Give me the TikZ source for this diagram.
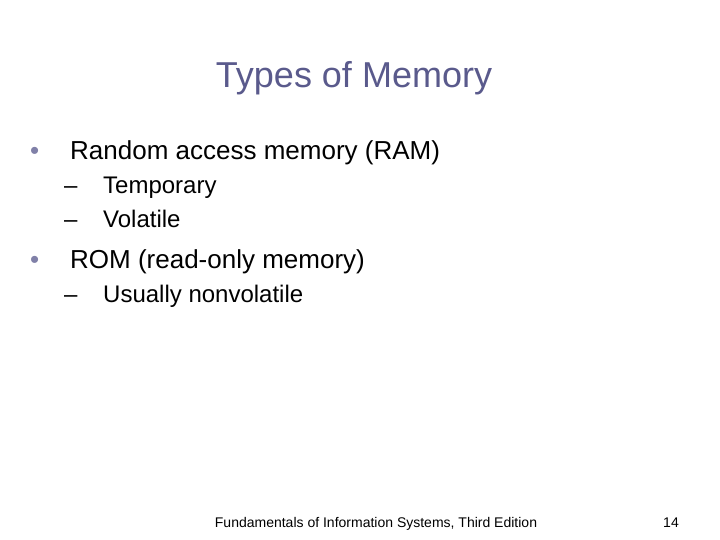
\documentclass[tikz,border=0pt]{standalone}
\usepackage{fontspec}
\setmainfont{Liberation Sans}
\definecolor{titlecol}{HTML}{5A5A8C}
\definecolor{dotcol}{HTML}{8080A8}
\begin{document}
\begin{tikzpicture}[x=1pt,y=-1pt,
  title/.style={font=\fontsize{36}{40}\selectfont,text=titlecol,anchor=base},
  lvlone/.style={font=\fontsize{26}{30}\selectfont,anchor=base west,inner sep=0pt},
  lvltwo/.style={font=\fontsize{24}{28}\selectfont,anchor=base west,inner sep=0pt},
  foot/.style={font=\fontsize{14}{16}\selectfont,anchor=base,inner sep=0pt}]
  \useasboundingbox[fill=white] (0,0) rectangle (720,540);
  \node[title] (head) at (354,88) {Types of Memory};
  % first bullet
  \node[lvlone,text=dotcol] (dotA) at (30,160) {\textbullet};
  \node[lvlone] (ram) at (70,160) {Random access memory (RAM)};
  \node[lvltwo] (dashA) at (64,194) {–};
  \node[lvltwo] (temp) at (103,194) {Temporary};
  \node[lvltwo] (dashB) at (64,227) {–};
  \node[lvltwo] (vol) at (103,227) {Volatile};
  % second bullet
  \node[lvlone,text=dotcol] (dotB) at (30,268) {\textbullet};
  \node[lvlone] (rom) at (70,268) {ROM (read-only memory)};
  \node[lvltwo] (dashC) at (64,302) {–};
  \node[lvltwo] (nonvol) at (103,302) {Usually nonvolatile};
  % footer
  \node[foot] (src) at (376,527) {Fundamentals of Information Systems, Third Edition};
  \node[foot] (page) at (671,527) {14};
\end{tikzpicture}
\end{document}
